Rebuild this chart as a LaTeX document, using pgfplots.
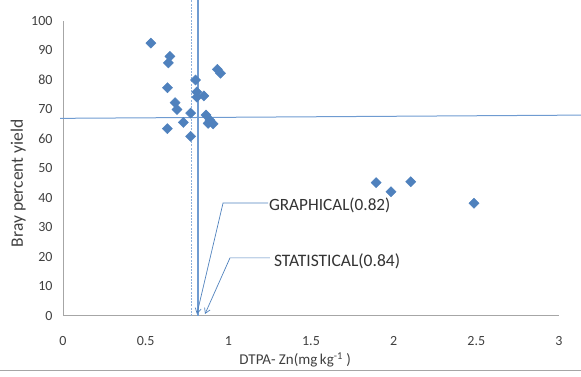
\documentclass[border=0pt]{standalone}
\usepackage{fontspec}
\setmainfont{Carlito}
\usepackage{pgfplots}
\pgfplotsset{compat=1.18}
\usetikzlibrary{arrows.meta}

\definecolor{markblue}{HTML}{4F81BD}
\definecolor{lineblue}{HTML}{6F9BD1}
\definecolor{dashblue}{HTML}{8DB0DC}
\definecolor{axisgray}{HTML}{A6A6A6}
\definecolor{textgray}{HTML}{404040}

\begin{document}
\begin{tikzpicture}[x=1pt,y=1pt]
\useasboundingbox (0,0) rectangle (581,377);
% bottom border of the chart area
\draw[axisgray, line width=1pt] (0,6) -- (581,6);
\begin{axis}[
  at={(63pt,61pt)}, anchor=south west,
  scale only axis, width=496pt, height=295pt,
  xmin=0, xmax=3, ymin=0, ymax=100,
  axis lines*=left,
  axis line style={axisgray, line width=1pt},
  xtick={0,0.5,1,1.5,2,2.5,3},
  ytick={0,10,...,100},
  major tick length=0pt,
  /pgf/number format/assume math mode=true,
  ticklabel style={font=\fontsize{14}{16}\selectfont, text=textgray},
  xticklabel style={anchor=base, yshift=-30pt},
  yticklabel style={anchor=east, xshift=-7pt},
  xlabel={DTPA- Zn(mg\,kg\textsuperscript{-1} )},
  ylabel={Bray percent yield},
  every axis x label/.style={at={([yshift=-49pt]axis description cs:0.468,0)}, anchor=base,
    font=\fontsize{15}{17}\selectfont, text=textgray},
  every axis y label/.style={at={([xshift=-40pt]axis description cs:0,0.45)}, anchor=base, rotate=90,
    font=\fontsize{17.5}{19}\selectfont, text=textgray},
  clip=false,
]
% reference lines
\addplot[dashblue, line width=1pt, dash pattern=on 2pt off 1.2pt] coordinates {(0.778,0) (0.778,107)};
\addplot[lineblue, line width=1.4pt] coordinates {(0.817,0) (0.817,107)};
\addplot[lineblue, line width=1pt] coordinates {(-0.018,67.0) (3.134,68.1)};

% observations
\addplot[only marks, mark=square*, mark size=3.6pt, mark options={rotate=45, markblue, fill=markblue}]
coordinates {
(0.532,92.5) (0.647,88.0) (0.637,85.8) (0.632,77.4) (0.802,80.0)
(0.933,83.6) (0.953,82.3) (0.809,75.9) (0.852,74.6) (0.678,72.3)
(0.689,70.0) (0.772,68.8) (0.728,65.6) (0.865,68.1) (0.889,66.4)
(0.908,65.1) (0.878,65.3) (0.631,63.5) (0.772,60.9) (0.810,74.2)
(1.894,45.2) (1.984,42.1) (2.103,45.5) (2.486,38.2)
};

% annotation leaders
\addplot[markblue, line width=0.7pt, -{Straight Barb[length=5pt,width=6pt]}]
  coordinates {(1.240,38.3) (0.968,38.3) (0.810,0.7)};
\addplot[markblue, line width=0.7pt, -{Straight Barb[length=5pt,width=6pt]}]
  coordinates {(1.252,19.7) (1.010,19.7) (0.859,0.7)};
\node[anchor=west, inner sep=0pt, font=\fontsize{17.2}{19}\selectfont, text=black!80]
  at (axis cs:1.245,37.6) {GRAPHICAL(0.82)};
\node[anchor=west, inner sep=0pt, font=\fontsize{17.5}{19}\selectfont, text=black!80]
  at (axis cs:1.275,18.6) {STATISTICAL(0.84)};
\end{axis}
\end{tikzpicture}
\end{document}
